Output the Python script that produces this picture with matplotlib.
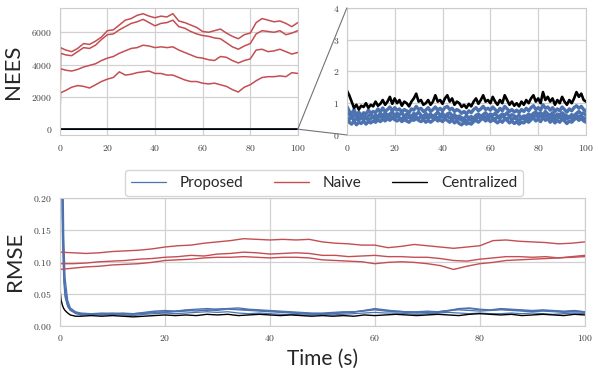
import numpy as np
import matplotlib
matplotlib.use("Agg")
import matplotlib.pyplot as plt
import seaborn as sns
from matplotlib.patches import ConnectionPatch
from matplotlib.ticker import FuncFormatter

# ---- NEES, naive filters (4 agents) ----
nees_time = [0, 0.3] + list(np.arange(2.5, 100.1, 2.5))
nees_naive = [
    [0, 5050, 4900, 4800, 5000, 5300, 5250, 5450, 5700, 6100, 6150, 6450,
     6750, 6850, 7050, 7150, 7000, 6900, 7000, 6950, 7150, 6700,
     6600, 6450, 6300, 6050, 6000, 6100, 6200, 5950, 5750, 5600,
     5850, 5950, 6600, 6850, 6750, 6650, 6700, 6550, 6350, 6600],
    [0, 4700, 4600, 4550, 4800, 5050, 5000, 5200, 5550, 5850, 5900, 6150,
     6350, 6550, 6650, 6800, 6600, 6400, 6550, 6600, 6750, 6350,
     6250, 6050, 5900, 5800, 5750, 5650, 5600, 5350, 5100, 4950,
     5150, 5300, 5900, 6100, 6050, 6000, 6100, 5850, 5950, 6100],
    [0, 3750, 3650, 3600, 3700, 3850, 3950, 4050, 4250, 4400, 4500, 4700,
     4850, 5000, 5050, 5200, 5150, 5050, 5100, 5050, 5100, 4900,
     4750, 4600, 4450, 4400, 4300, 4250, 4500, 4450, 4250, 4100,
     4250, 4350, 4900, 4950, 4800, 4850, 4950, 4800, 4650, 4750],
    [0, 2250, 2400, 2600, 2700, 2650, 2550, 2750, 2950, 3100, 3200, 3550,
     3350, 3400, 3500, 3550, 3600, 3450, 3450, 3350, 3350, 3200,
     3050, 2950, 2950, 2850, 2800, 2850, 2750, 2650, 2450, 2300,
     2600, 2750, 3000, 3200, 3250, 3250, 3300, 3250, 3500, 3450],
]

# ---- NEES, centralized and proposed (zoomed panel) ----
zoom_time = np.arange(0, 101, 1)
nees_central = [
    1.40, 1.25, 1.05, 0.85, 0.95, 0.80, 0.92, 0.88, 1.00, 0.85,
    0.95, 0.90, 1.05, 0.92, 0.98, 1.10, 0.95, 1.05, 1.20, 0.98,
    1.15, 1.00, 1.10, 0.92, 1.05, 1.00, 0.90, 1.05, 1.15, 1.30,
    1.05, 1.10, 0.95, 1.00, 1.10, 0.95, 1.05, 1.25, 1.05, 1.10,
    0.98, 1.15, 1.25, 1.05, 1.15, 0.95, 1.05, 1.00, 0.88, 0.95,
    0.85, 0.98, 0.90, 1.05, 1.15, 0.98, 1.10, 1.25, 1.05, 1.10,
    1.00, 1.20, 1.05, 0.95, 1.10, 1.00, 1.25, 1.10, 0.95, 1.05,
    0.92, 1.00, 0.90, 1.05, 0.95, 1.10, 1.00, 1.15, 1.25, 1.05,
    1.15, 1.00, 1.35, 1.10, 1.20, 1.05, 1.15, 0.95, 1.10, 1.00,
    1.20, 1.05, 0.95, 1.10, 1.00, 1.15, 1.35, 1.20, 1.30, 1.10, 1.05,
]
nees_proposed = [
    [0.90, 0.75, 0.65, 0.80, 0.62, 0.72, 0.60, 0.70, 0.66, 0.78,
     0.68, 0.74, 0.70, 0.82, 0.72, 0.85, 0.74, 0.80, 0.88, 0.75,
     0.86, 0.78, 0.82, 0.72, 0.80, 0.76, 0.70, 0.82, 0.78, 0.90,
     0.80, 0.84, 0.74, 0.78, 0.86, 0.74, 0.80, 0.88, 0.78, 0.84,
     0.76, 0.86, 0.90, 0.80, 0.84, 0.74, 0.80, 0.76, 0.68, 0.74,
     0.66, 0.76, 0.70, 0.80, 0.86, 0.76, 0.82, 0.90, 0.80, 0.84,
     0.78, 0.88, 0.80, 0.72, 0.84, 0.76, 0.90, 0.82, 0.74, 0.80,
     0.72, 0.78, 0.70, 0.80, 0.74, 0.84, 0.76, 0.86, 0.92, 0.80,
     0.86, 0.78, 0.95, 0.84, 0.88, 0.78, 0.86, 0.74, 0.82, 0.76,
     0.88, 0.80, 0.72, 0.82, 0.76, 0.86, 0.92, 0.84, 0.90, 0.80, 0.76],
    [0.62, 0.70, 0.54, 0.60, 0.66, 0.50, 0.58, 0.64, 0.52, 0.60,
     0.66, 0.56, 0.62, 0.58, 0.68, 0.60, 0.70, 0.62, 0.66, 0.72,
     0.60, 0.68, 0.64, 0.70, 0.58, 0.66, 0.62, 0.58, 0.68, 0.64,
     0.72, 0.62, 0.58, 0.68, 0.60, 0.66, 0.58, 0.64, 0.72, 0.62,
     0.68, 0.58, 0.66, 0.70, 0.60, 0.64, 0.56, 0.60, 0.54, 0.52,
     0.60, 0.54, 0.58, 0.52, 0.62, 0.66, 0.58, 0.64, 0.70, 0.60,
     0.66, 0.62, 0.68, 0.58, 0.60, 0.66, 0.62, 0.70, 0.58, 0.64,
     0.60, 0.56, 0.62, 0.54, 0.60, 0.58, 0.66, 0.60, 0.68, 0.72,
     0.64, 0.70, 0.62, 0.74, 0.66, 0.62, 0.70, 0.58, 0.66, 0.62,
     0.70, 0.64, 0.60, 0.56, 0.64, 0.60, 0.68, 0.74, 0.66, 0.70, 0.62],
    [0.50, 0.40, 0.34, 0.44, 0.32, 0.40, 0.36, 0.44, 0.34, 0.42,
     0.38, 0.44, 0.40, 0.48, 0.42, 0.50, 0.44, 0.52, 0.46, 0.54,
     0.48, 0.44, 0.50, 0.42, 0.48, 0.44, 0.40, 0.48, 0.46, 0.52,
     0.46, 0.42, 0.48, 0.40, 0.46, 0.40, 0.46, 0.52, 0.44, 0.48,
     0.42, 0.50, 0.46, 0.40, 0.48, 0.38, 0.44, 0.36, 0.32, 0.40,
     0.34, 0.38, 0.34, 0.42, 0.46, 0.40, 0.48, 0.52, 0.44, 0.50,
     0.42, 0.48, 0.44, 0.38, 0.46, 0.40, 0.50, 0.46, 0.38, 0.44,
     0.36, 0.42, 0.34, 0.40, 0.38, 0.46, 0.40, 0.48, 0.54, 0.44,
     0.50, 0.42, 0.56, 0.46, 0.52, 0.40, 0.48, 0.38, 0.46, 0.40,
     0.50, 0.44, 0.36, 0.44, 0.40, 0.48, 0.54, 0.46, 0.52, 0.44, 0.40],
    [0.56, 0.48, 0.60, 0.44, 0.52, 0.46, 0.56, 0.48, 0.54, 0.46,
     0.52, 0.58, 0.48, 0.54, 0.60, 0.50, 0.58, 0.54, 0.62, 0.56,
     0.52, 0.60, 0.54, 0.50, 0.58, 0.52, 0.56, 0.50, 0.60, 0.56,
     0.52, 0.58, 0.50, 0.56, 0.52, 0.58, 0.54, 0.60, 0.52, 0.58,
     0.56, 0.52, 0.60, 0.54, 0.50, 0.56, 0.48, 0.52, 0.46, 0.50,
     0.44, 0.50, 0.46, 0.54, 0.50, 0.58, 0.52, 0.60, 0.56, 0.52,
     0.58, 0.54, 0.50, 0.56, 0.52, 0.60, 0.54, 0.50, 0.56, 0.48,
     0.54, 0.50, 0.46, 0.52, 0.50, 0.56, 0.52, 0.60, 0.56, 0.62,
     0.56, 0.60, 0.54, 0.62, 0.56, 0.52, 0.58, 0.50, 0.56, 0.54,
     0.60, 0.54, 0.50, 0.56, 0.52, 0.58, 0.64, 0.56, 0.60, 0.54, 0.50],
]

# ---- RMSE ----
rmse_time = [0, 0.25, 0.5, 0.75, 1, 1.5, 2, 3] + list(np.arange(4, 101, 2))
rmse_central = [
    0.060, 0.040, 0.032, 0.027, 0.024, 0.020, 0.017, 0.015,
    0.015, 0.016, 0.015, 0.016, 0.015, 0.014, 0.015, 0.016, 0.017, 0.016,
    0.017, 0.016, 0.018, 0.017, 0.018, 0.016, 0.017, 0.018, 0.017, 0.016,
    0.017, 0.016, 0.015, 0.016, 0.015, 0.016, 0.015, 0.017, 0.016, 0.017,
    0.018, 0.017, 0.016, 0.017, 0.018, 0.017, 0.016, 0.018, 0.019, 0.018,
    0.017, 0.018, 0.016, 0.017, 0.018, 0.017, 0.016, 0.018, 0.017,
]
rmse_proposed = [
    [0.60, 0.30, 0.14, 0.07, 0.045, 0.030, 0.024, 0.020,
     0.017, 0.018, 0.017, 0.018, 0.017, 0.016, 0.018, 0.019, 0.020, 0.019,
     0.020, 0.021, 0.022, 0.021, 0.022, 0.020, 0.019, 0.020, 0.019, 0.018,
     0.018, 0.017, 0.017, 0.018, 0.017, 0.018, 0.019, 0.020, 0.021, 0.020,
     0.020, 0.019, 0.018, 0.019, 0.020, 0.021, 0.020, 0.019, 0.020, 0.019,
     0.019, 0.020, 0.019, 0.020, 0.019, 0.018, 0.019, 0.020, 0.019],
    [0.80, 0.45, 0.22, 0.10, 0.060, 0.035, 0.026, 0.021,
     0.019, 0.018, 0.019, 0.020, 0.019, 0.018, 0.019, 0.021, 0.022, 0.023,
     0.024, 0.023, 0.025, 0.024, 0.026, 0.025, 0.024, 0.023, 0.022, 0.021,
     0.021, 0.020, 0.019, 0.019, 0.020, 0.021, 0.022, 0.023, 0.025, 0.023,
     0.022, 0.021, 0.020, 0.021, 0.022, 0.024, 0.025, 0.024, 0.023, 0.024,
     0.025, 0.024, 0.023, 0.022, 0.023, 0.022, 0.021, 0.022, 0.021],
    [0.70, 0.35, 0.17, 0.085, 0.050, 0.032, 0.025, 0.019,
     0.018, 0.019, 0.020, 0.019, 0.018, 0.019, 0.020, 0.022, 0.021, 0.022,
     0.023, 0.025, 0.024, 0.026, 0.027, 0.026, 0.025, 0.024, 0.023, 0.022,
     0.020, 0.019, 0.018, 0.019, 0.019, 0.020, 0.021, 0.024, 0.027, 0.025,
     0.023, 0.022, 0.021, 0.022, 0.021, 0.023, 0.026, 0.027, 0.025, 0.024,
     0.026, 0.025, 0.024, 0.023, 0.024, 0.023, 0.022, 0.023, 0.022],
    [0.90, 0.55, 0.30, 0.14, 0.075, 0.040, 0.028, 0.022,
     0.020, 0.019, 0.018, 0.019, 0.020, 0.019, 0.021, 0.023, 0.024, 0.023,
     0.025, 0.026, 0.027, 0.026, 0.027, 0.028, 0.026, 0.025, 0.024, 0.023,
     0.022, 0.021, 0.020, 0.020, 0.021, 0.022, 0.022, 0.024, 0.026, 0.024,
     0.023, 0.022, 0.022, 0.023, 0.022, 0.024, 0.027, 0.028, 0.026, 0.025,
     0.027, 0.026, 0.025, 0.024, 0.025, 0.024, 0.023, 0.024, 0.022],
]
rmse_naive_time = np.arange(0, 100.1, 2.5)
rmse_naive = [
    [0.115, 0.114, 0.113, 0.114, 0.116, 0.117, 0.118, 0.120, 0.123, 0.125,
     0.126, 0.129, 0.131, 0.133, 0.136, 0.135, 0.134, 0.135, 0.134, 0.135,
     0.131, 0.129, 0.128, 0.126, 0.126, 0.122, 0.124, 0.127, 0.125, 0.123,
     0.121, 0.123, 0.125, 0.133, 0.134, 0.132, 0.131, 0.130, 0.128, 0.129, 0.131],
    [0.097, 0.097, 0.098, 0.100, 0.101, 0.102, 0.104, 0.105, 0.107, 0.108,
     0.110, 0.109, 0.112, 0.113, 0.115, 0.114, 0.112, 0.113, 0.114, 0.113,
     0.110, 0.110, 0.108, 0.109, 0.110, 0.108, 0.108, 0.107, 0.107, 0.105,
     0.102, 0.101, 0.104, 0.106, 0.108, 0.108, 0.107, 0.108, 0.106, 0.107, 0.108],
    [0.088, 0.090, 0.092, 0.093, 0.095, 0.096, 0.097, 0.099, 0.102, 0.103,
     0.104, 0.106, 0.107, 0.107, 0.108, 0.107, 0.106, 0.107, 0.107, 0.106,
     0.103, 0.102, 0.101, 0.100, 0.097, 0.099, 0.100, 0.099, 0.097, 0.094,
     0.088, 0.093, 0.097, 0.099, 0.102, 0.103, 0.104, 0.105, 0.106, 0.108, 0.110],
]

BLUE = "#4C72B0"
RED = "#C44E52"

sns.set_style("whitegrid")
plt.rcParams["font.family"] = ["Lato", "DejaVu Sans"]
plt.rcParams["mathtext.fontset"] = "cm"

tick_fmt = FuncFormatter(lambda v, p: "$%g$" % v)
tick_fmt2 = FuncFormatter(lambda v, p: "$%.2f$" % v)

fig = plt.figure(figsize=(5.98, 3.78), dpi=100)
ax1 = fig.add_axes([0.100, 0.643, 0.398, 0.336])
ax2 = fig.add_axes([0.580, 0.643, 0.400, 0.336])
ax3 = fig.add_axes([0.100, 0.138, 0.878, 0.339])

for ax in (ax1, ax2, ax3):
    for s in ax.spines.values():
        s.set_color(".8")
    ax.tick_params(labelsize=7, pad=2, colors=".25")
    ax.grid(color=".82", lw=0.9)

# top left: full NEES
for y in nees_naive:
    ax1.plot(nees_time, y, color=RED, lw=1.1)
for y in nees_proposed:
    ax1.plot(zoom_time, y, color=BLUE, lw=1.2)
ax1.plot(zoom_time, nees_central, color="k", lw=1.2)
ax1.set_xlim(0, 100)
ax1.set_yticks([0, 2000, 4000, 6000])
ax1.xaxis.set_major_formatter(tick_fmt)
ax1.yaxis.set_major_formatter(tick_fmt)
ax1.set_ylabel("NEES", fontsize=16, labelpad=6)

# top right: zoom on consistent filters
for y in nees_proposed:
    ax2.plot(zoom_time, y, color=BLUE, lw=2.4)
ax2.plot(zoom_time, nees_central, color="k", lw=1.9)
ax2.set_xlim(0, 100)
ax2.set_ylim(0, 4)
ax2.set_yticks([0, 1, 2, 3, 4])
ax2.xaxis.set_major_formatter(tick_fmt)
ax2.yaxis.set_major_formatter(tick_fmt)

for yb in (4, 0):
    con = ConnectionPatch(xyA=(100, 0), coordsA=ax1.transData,
                          xyB=(0, yb), coordsB=ax2.transData,
                          color="0.45", lw=0.8)
    fig.add_artist(con)

# bottom: RMSE
for i, y in enumerate(rmse_proposed):
    ax3.plot(rmse_time, y, color=BLUE, lw=0.9,
             label="Proposed" if i == 0 else None)
for i, y in enumerate(rmse_naive):
    ax3.plot(rmse_naive_time, y, color=RED, lw=1.0,
             label="Naive" if i == 0 else None)
ax3.plot(rmse_time, rmse_central, color="k", lw=1.0, label="Centralized")
ax3.set_xlim(0, 100)
ax3.set_ylim(0, 0.2)
ax3.set_yticks([0, 0.05, 0.10, 0.15, 0.20])
ax3.xaxis.set_major_formatter(tick_fmt)
ax3.yaxis.set_major_formatter(tick_fmt2)
ax3.set_ylabel("RMSE", fontsize=16, labelpad=6)
ax3.set_xlabel("Time (s)", fontsize=15, labelpad=4)
ax3.legend(loc="center", bbox_to_anchor=(0.503, 1.115), ncol=3,
           fontsize=11, frameon=True, handlelength=2.3, columnspacing=2.0,
           handletextpad=0.9, borderpad=0.4, edgecolor=".8")

fig.savefig("out.png", dpi=100)
